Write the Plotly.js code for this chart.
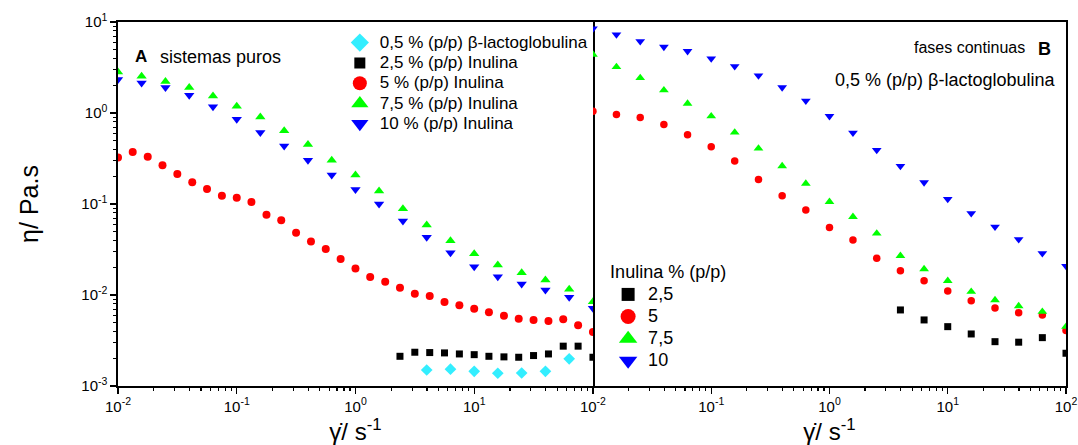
<!DOCTYPE html>
<html><head><meta charset="utf-8">
<script src="https://cdn.plot.ly/plotly-3.0.1.min.js"></script>
<style>html,body{margin:0;padding:0;background:#fff}#chart{width:1078px;height:445px}</style>
</head><body><div id="chart"></div>
<script>
const FONT = '"Liberation Sans", Arial, sans-serif';

// ---------- Panel A: sistemas puros ----------
const xA8 = [0.01,0.0133,0.0178,0.0237,0.0316,0.0422,0.0562,0.075,0.1,0.133,0.178,0.237,0.316,0.422,0.562,0.75,1,1.33,1.78,2.37,3.16,4.22,5.62,7.5,10,13.3,17.8,23.7,31.6,42.2,56.2,75,100];
const redA = [0.325,0.372,0.330,0.267,0.213,0.173,0.146,0.123,0.117,0.105,0.0761,0.0661,0.0483,0.0388,0.0320,0.0248,0.0196,0.0158,0.0140,0.0120,0.0103,0.00975,0.00838,0.00771,0.00707,0.00646,0.00593,0.00550,0.00532,0.00519,0.00541,0.00465,0.00393];
const x5 = [0.01,0.0158,0.0251,0.0398,0.0631,0.1,0.158,0.251,0.398,0.631,1,1.58,2.51,3.98,6.31,10,15.8,25.1,39.8,63.1,100];
const greenA = [2.83,2.54,2.22,1.91,1.54,1.19,0.906,0.637,0.451,0.303,0.208,0.139,0.0886,0.0587,0.0394,0.0284,0.0213,0.0176,0.0146,0.0116,0.00844];
const blueA = [2.33,2.14,1.91,1.57,1.17,0.855,0.611,0.435,0.303,0.208,0.1445,0.0997,0.0649,0.0430,0.0291,0.0205,0.0159,0.0132,0.01135,0.00944,0.00715];
const xBlackA = [2.37,3.16,4.22,5.62,7.5,10,13.3,17.8,23.7,31.6,42.2,56.2,75,100];
const blackA = [0.00212,0.00235,0.00233,0.00231,0.00225,0.00221,0.00212,0.00209,0.00207,0.00216,0.00225,0.00274,0.00274,0.00207];
const xCyanA = [3.98,6.31,10,15.8,25.1,39.8,63.1];
const cyanA = [0.00150,0.00153,0.00145,0.00138,0.00139,0.00145,0.00199];

// ---------- Panel B: fases continuas ----------
const blueB = [8.46,7.27,6.14,5.32,4.77,3.96,3.26,2.58,1.91,1.36,0.923,0.605,0.391,0.261,0.1726,0.1132,0.0789,0.0562,0.0409,0.0287,0.0208];
const greenB = [4.39,3.21,2.43,1.78,1.27,0.923,0.611,0.408,0.261,0.168,0.1057,0.0723,0.0475,0.0270,0.0193,0.01433,0.01086,0.00880,0.00756,0.00656,0.00449];
const redB = [1.047,0.963,0.893,0.748,0.575,0.425,0.296,0.186,0.123,0.0857,0.0553,0.0402,0.0253,0.0185,0.01436,0.01107,0.00865,0.00719,0.00639,0.00603,0.00406];
const xBlackB = [3.98,6.31,10,15.8,25.1,39.8,63.1,100];
const blackB = [0.00685,0.00532,0.00449,0.00373,0.00307,0.00303,0.00340,0.00229];

// ---------- labels ----------
const legendA = ['0,5 % (p/p) β-lactoglobulina','2,5 % (p/p) Inulina','5 % (p/p) Inulina','7,5 % (p/p) Inulina','10 % (p/p) Inulina'];
const legendB = ['2,5','5','7,5','10'];
const legendBTitle = 'Inulina % (p/p)';
const xTickVals = [0.01,0.1,1,10,100];
const xTickTextA = ['10<sup>-2</sup>','10<sup>-1</sup>','10<sup>0</sup>','10<sup>1</sup>',''];
const xTickTextB = ['10<sup>-2</sup>','10<sup>-1</sup>','10<sup>0</sup>','10<sup>1</sup>','10<sup>2</sup>'];
const yTickVals = [0.001,0.01,0.1,1,10];
const yTickText = ['10<sup>-3</sup>','10<sup>-2</sup>','10<sup>-1</sup>','10<sup>0</sup>','10<sup>1</sup>'];

const C = {cyan:'#33EEFF', black:'#000000', red:'#FF0000', green:'#00FF00', blue:'#0000FF'};

function minorVals(e0, e1){ const v=[]; for(let e=e0;e<e1;e++){ for(let k=2;k<=9;k++) v.push(k*Math.pow(10,e)); } return v; }

function pts(x, y, xa, ya, color, symbol, size){
  return {x:x, y:y, xaxis:xa, yaxis:ya, type:'scatter', mode:'markers', showlegend:false,
    marker:{color:color, symbol:symbol, size:size, line:{width:0}}};
}
function leg(name, color, symbol, size, legend, fs){
  return {x:[null], y:[null], type:'scatter', mode:'markers', name:'<span style="font-size:'+fs+'px">'+name+'</span>',
    legend:legend, showlegend:true, marker:{color:color, symbol:symbol, size:size, line:{width:0}}};
}

const traces = [
  pts(xCyanA, cyanA, 'x', 'y', C.cyan, 'diamond', 9),
  pts(xBlackA, blackA, 'x', 'y', C.black, 'square', 7),
  pts(xA8, redA, 'x', 'y', C.red, 'circle', 8),
  pts(x5, greenA, 'x', 'y', C.green, 'triangle-up', 9),
  pts(x5, blueA, 'x', 'y', C.blue, 'triangle-down', 9),
  pts(xBlackB, blackB, 'x2', 'y2', C.black, 'square', 7),
  pts(x5, redB, 'x2', 'y2', C.red, 'circle', 7.5),
  pts(x5, greenB, 'x2', 'y2', C.green, 'triangle-up', 8.5),
  pts(x5, blueB, 'x2', 'y2', C.blue, 'triangle-down', 8.5),
  leg(legendA[0], C.cyan, 'diamond', 14, 'legend', 17),
  leg(legendA[1], C.black, 'square', 11, 'legend', 17),
  leg(legendA[2], C.red, 'circle', 14, 'legend', 17),
  leg(legendA[3], C.green, 'triangle-up', 15, 'legend', 17),
  leg(legendA[4], C.blue, 'triangle-down', 15, 'legend', 17),
  leg(legendB[0], C.black, 'square', 13, 'legend2', 18),
  leg(legendB[1], C.red, 'circle', 15, 'legend2', 18),
  leg(legendB[2], C.green, 'triangle-up', 16, 'legend2', 18),
  leg(legendB[3], C.blue, 'triangle-down', 16, 'legend2', 18)
];

const xBase = {type:'log', range:[-2,2], tickmode:'array', tickvals:xTickVals,
  ticks:'outside', ticklen:6, tickwidth:1.3, tickcolor:'#000',
  minor:{tickmode:'array', tickvals:minorVals(-2,2), ticks:'outside', ticklen:3.5, tickwidth:1.2, tickcolor:'#000', showgrid:false},
  showline:true, linecolor:'#000', linewidth:1.6, mirror:true, showgrid:false, zeroline:false,
  tickfont:{size:15, color:'#000', family:FONT},
  title:{text:'γ̇/ s<sup>-1</sup>', font:{size:24, color:'#000', family:FONT}, standoff:4},
  automargin:false};

const layout = {
  width:1078, height:445, paper_bgcolor:'#fff', plot_bgcolor:'#fff',
  margin:{l:118, r:12, t:22, b:59},
  font:{family:FONT, color:'#000'},
  xaxis:Object.assign({}, xBase, {domain:[0,0.501], anchor:'y', ticktext:xTickTextA}),
  xaxis2:Object.assign({}, xBase, {domain:[0.501,1], anchor:'y2', ticktext:xTickTextB}),
  yaxis:{type:'log', range:[-3,1], anchor:'x', tickmode:'array', tickvals:yTickVals, ticktext:yTickText,
    ticks:'outside', ticklen:6, tickwidth:1.3, tickcolor:'#000',
    minor:{tickmode:'array', tickvals:minorVals(-3,1), ticks:'outside', ticklen:3.5, tickwidth:1.2, tickcolor:'#000', showgrid:false},
    showline:true, linecolor:'#000', linewidth:1.6, mirror:true, showgrid:false, zeroline:false,
    tickfont:{size:15, color:'#000', family:FONT},
    title:{text:'η/ Pa.s', font:{size:25, color:'#000', family:FONT}, standoff:35}, automargin:false},
  yaxis2:{type:'log', range:[-3,1], anchor:'x2', matches:'y', side:'right', showticklabels:false, ticks:'',
    showline:true, linecolor:'#000', linewidth:1.6, mirror:false, showgrid:false, zeroline:false},
  legend:{x:0.234, y:0.985, xanchor:'left', yanchor:'top', bgcolor:'rgba(0,0,0,0)', borderwidth:0,
    font:{size:13.3, family:FONT, color:'#000'}, tracegroupgap:0, itemclick:false},
  legend2:{x:0.517, y:0.36, xanchor:'left', yanchor:'top', bgcolor:'rgba(0,0,0,0)', borderwidth:0,
    font:{size:14.7, family:FONT, color:'#000'}, tracegroupgap:0,
    title:{text:legendBTitle, font:{size:18, family:FONT, color:'#000'}}},
  annotations:[
    {xref:'paper', yref:'paper', x:0.016, y:0.937, text:'<b>A</b>', showarrow:false, font:{size:17, color:'#000', family:FONT}},
    {xref:'paper', yref:'paper', x:0.0425, y:0.937, xanchor:'left', text:'sistemas puros', showarrow:false, font:{size:18, color:'#000', family:FONT}},
    {xref:'paper', yref:'paper', x:0.959, y:0.958, xanchor:'right', text:'fases continuas', showarrow:false, font:{size:16, color:'#000', family:FONT}},
    {xref:'paper', yref:'paper', x:0.9858, y:0.958, text:'<b>B</b>', showarrow:false, font:{size:18, color:'#000', family:FONT}},
    {xref:'paper', yref:'paper', x:0.990, y:0.873, xanchor:'right', text:'0,5 % (p/p) β-lactoglobulina', showarrow:false, font:{size:18, color:'#000', family:FONT}}
  ]
};

Plotly.newPlot('chart', traces, layout, {staticPlot:true, displayModeBar:false});
</script>
</body></html>
